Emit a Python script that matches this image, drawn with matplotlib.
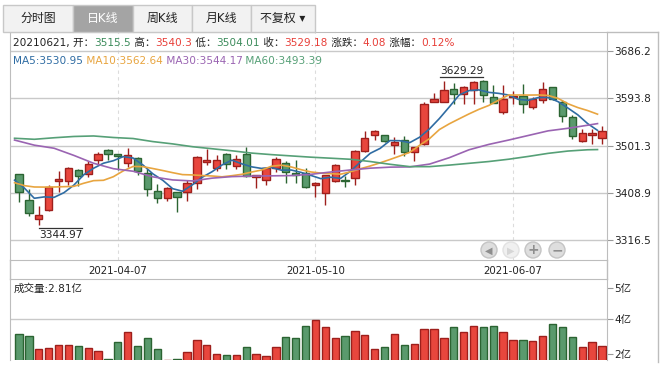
import numpy as np
import matplotlib.pyplot as plt
from matplotlib.patches import Rectangle, Circle

plt.rcParams['font.family'] = ['DejaVu Sans', 'Noto Sans CJK SC']

# ---- data ----
opens = [3445.0, 3394.8, 3357.0, 3374.6, 3431.4, 3432.6, 3452.9, 3445.0, 3472.5, 3492.0,
         3484.2, 3467.8, 3476.4, 3447.0, 3411.8, 3398.1, 3409.8, 3409.8, 3428.6, 3468.5,
         3456.8, 3484.2, 3461.9, 3484.2, 3440.4, 3433.3, 3457.9, 3467.8, 3447.0, 3447.0,
         3423.5, 3407.9, 3432.0, 3433.9, 3437.2, 3491.2, 3521.3, 3521.3, 3501.7, 3511.6,
         3488.7, 3503.7, 3587.1, 3587.1, 3611.3, 3602.1, 3610.5, 3627.0, 3595.7, 3566.3,
         3596.9, 3598.2, 3577.3, 3589.8, 3615.2, 3587.1, 3556.6, 3509.6, 3521.3, 3515.5]
highs = [3446.0, 3415.7, 3383.1, 3423.5, 3452.1, 3460.0, 3454.5, 3471.7, 3488.7, 3494.6,
         3485.5, 3495.9, 3478.0, 3455.4, 3425.5, 3419.5, 3411.0, 3433.9, 3480.9, 3494.0,
         3482.2, 3486.0, 3482.2, 3497.9, 3444.5, 3458.0, 3478.3, 3471.7, 3473.0, 3457.9,
         3429.0, 3444.0, 3465.8, 3441.7, 3492.6, 3530.3, 3531.0, 3522.5, 3517.4, 3519.4,
         3499.0, 3585.9, 3603.5, 3627.6, 3623.1, 3617.0, 3627.6, 3629.29, 3619.7, 3619.7,
         3608.6, 3621.1, 3596.9, 3625.0, 3616.5, 3590.0, 3561.6, 3534.3, 3534.3, 3540.3]
lows = [3390.2, 3363.5, 3344.97, 3374.0, 3410.4, 3424.1, 3422.8, 3439.2, 3463.3, 3473.0,
        3453.5, 3460.0, 3443.7, 3403.2, 3388.4, 3393.4, 3371.9, 3393.4, 3415.7, 3463.9,
        3451.3, 3456.0, 3455.4, 3439.2, 3417.7, 3424.1, 3450.0, 3427.5, 3427.5, 3417.7,
        3401.3, 3384.4, 3429.4, 3419.6, 3424.1, 3489.0, 3511.6, 3509.0, 3484.5, 3480.9,
        3471.1, 3502.0, 3586.0, 3586.0, 3582.6, 3582.0, 3582.0, 3585.9, 3584.0, 3562.4,
        3582.0, 3564.4, 3572.2, 3583.7, 3591.0, 3546.8, 3513.5, 3507.6, 3504.1, 3504.01]
closes = [3411.0, 3368.8, 3364.9, 3419.6, 3435.3, 3456.8, 3442.3, 3465.8, 3484.2, 3484.2,
          3481.5, 3482.2, 3452.1, 3415.7, 3398.1, 3418.3, 3400.1, 3427.5, 3478.3, 3472.5,
          3472.5, 3465.8, 3474.4, 3442.3, 3443.1, 3456.8, 3474.4, 3449.0, 3443.5, 3419.6,
          3427.5, 3443.1, 3462.7, 3432.0, 3490.1, 3516.6, 3529.2, 3510.8, 3508.4, 3488.7,
          3497.9, 3582.0, 3593.0, 3609.4, 3601.5, 3615.2, 3625.0, 3599.6, 3585.1, 3591.8,
          3598.8, 3582.0, 3591.8, 3611.3, 3592.4, 3558.5, 3519.4, 3525.3, 3525.3, 3529.18]
# volume in 亿
volumes = [3.32, 3.24, 2.65, 2.69, 2.83, 2.83, 2.78, 2.69, 2.56, 2.20,
           2.96, 3.41, 2.78, 3.14, 2.65, 2.18, 2.20, 2.52, 3.05, 2.83,
           2.43, 2.38, 2.38, 2.74, 2.43, 2.34, 2.74, 3.18, 3.14, 3.68,
           3.94, 3.63, 3.14, 3.24, 3.45, 3.27, 2.65, 2.75, 3.32, 2.84,
           2.87, 3.54, 3.54, 3.14, 3.63, 3.41, 3.68, 3.63, 3.68, 3.41,
           3.05, 3.05, 3.01, 3.23, 3.77, 3.63, 3.18, 2.74, 2.96, 2.81]
ma5 = [3433.6, 3417.9, 3398.1, 3400.8, 3399.9, 3409.1, 3423.8, 3444.0, 3456.9, 3466.7,
       3471.6, 3479.6, 3476.8, 3463.1, 3445.9, 3433.3, 3416.9, 3411.9, 3424.5, 3439.3,
       3450.2, 3463.3, 3472.7, 3465.5, 3459.6, 3456.5, 3458.2, 3453.1, 3453.4, 3448.7,
       3442.8, 3436.5, 3439.3, 3437.0, 3451.1, 3468.9, 3486.1, 3495.7, 3511.0, 3510.7,
       3507.0, 3517.6, 3534.0, 3554.2, 3576.8, 3600.2, 3608.8, 3610.1, 3605.3, 3603.3,
       3600.1, 3591.5, 3589.9, 3595.1, 3595.3, 3587.2, 3574.7, 3561.4, 3544.2, 3530.95]
ma10 = [3428.6, 3422.8, 3420.2, 3420.0, 3420.2, 3420.8, 3421.4, 3427.5, 3432.6, 3433.3,
        3440.3, 3451.7, 3460.4, 3460.0, 3456.3, 3452.4, 3448.2, 3444.4, 3443.8, 3442.6,
        3441.7, 3440.1, 3442.3, 3445.0, 3449.5, 3453.3, 3460.8, 3462.9, 3459.4, 3454.1,
        3449.6, 3447.4, 3446.2, 3445.2, 3449.9, 3455.9, 3461.3, 3467.5, 3474.0, 3480.9,
        3488.0, 3501.8, 3514.9, 3532.6, 3543.8, 3553.6, 3563.2, 3572.1, 3579.7, 3590.1,
        3600.1, 3600.1, 3600.0, 3600.2, 3599.3, 3593.6, 3583.1, 3575.6, 3569.7, 3562.64]
# MA30 / MA60 read every second session
ma_slow_pos = list(range(0, 60, 2)) + [59]
ma30 = [3512, 3502, 3496, 3482, 3466.6, 3456, 3451, 3440, 3434, 3432,
        3437.5, 3440.5, 3441.5, 3442, 3442.5, 3445, 3449.5, 3453.5, 3457, 3459,
        3459.5, 3465, 3477.5, 3493, 3503.5, 3512, 3521, 3530, 3535, 3541, 3544.17]
ma60 = [3515.5, 3513.5, 3516.5, 3519, 3520, 3517, 3515, 3509, 3504.5, 3499,
        3495, 3491, 3486.5, 3483.5, 3481, 3478.5, 3476.5, 3474.4, 3470, 3464.6,
        3460, 3460, 3463, 3466.5, 3470, 3474.5, 3480, 3486, 3490.5, 3493, 3493.39]

tick_idx = [10, 30, 50]
tick_dates = ['2021-04-07', '2021-05-10', '2021-06-07']
price_ticks = [3316.5, 3408.9, 3501.3, 3593.8, 3686.2]
vol_ticks = [2.44, 4.0, 5.39]
vol_labels = ['2亿', '4亿', '5亿']
tab_names = ['分时图', '日K线', '周K线', '月K线', '不复权 ▾']
day = '20210621'
chg_text, pct_text = '4.08', '0.12%'

# ---- style ----
RED, RED_E = '#e8463d', '#9e1f1c'
GRN, GRN_E = '#5a9a6d', '#2b6432'
TXT_RED, TXT_GRN = '#e8403a', '#3d8c5c'
C5, C10, C30, C60 = '#2f6ca3', '#e8a540', '#9a64b2', '#56a077'
GRID, SPINE = '#c9c9c9', '#bdbdbd'

W, H = 666, 370
fig = plt.figure(figsize=(W / 100, H / 100), dpi=100)


def px_axes(x0, y0, x1, y1, **kw):
    return fig.add_axes([x0 / W, 1 - y1 / H, (x1 - x0) / W, (y1 - y0) / H], **kw)


idx = np.arange(len(closes))
o, h, l, c = map(np.array, (opens, highs, lows, closes))
up = c >= o
fill = np.where(up, RED, GRN)
edge = np.where(up, RED_E, GRN_E)

# ---- price panel ----
ax = px_axes(10, 32, 607, 260)
ax.vlines(idx, l, h, colors=edge, lw=1, zorder=2)
body = np.maximum(np.abs(c - o), 0.6)
ax.bar(idx, body, bottom=np.minimum(o, c), width=0.74, color=fill,
       edgecolor=edge, linewidth=1, zorder=3)
ax.plot(idx - 0.45, ma5, color=C5, lw=1.2, zorder=4)
ax.plot(idx - 0.45, ma10, color=C10, lw=1.2, zorder=4)
ax.plot(np.array(ma_slow_pos) - 0.45, ma30, color=C30, lw=1.2, zorder=4)
ax.plot(np.array(ma_slow_pos) - 0.45, ma60, color=C60, lw=1.2, zorder=4)
for t in tick_idx:
    ax.axvline(t, color='#dcdcdc', lw=0.8, ls=(0, (3, 3)), zorder=0)

ax.set_xlim(-0.911, 59.51)
ax.set_ylim(3277.38, 3723.37)
ax.yaxis.tick_right()
ax.set_yticks(price_ticks, [f'{v:.1f}' for v in price_ticks])
ax.set_xticks(tick_idx, tick_dates)
ax.tick_params(axis='y', length=4, width=0.8, color='#999999', pad=1.5,
               labelsize=7.6, labelcolor='#222222')
ax.tick_params(axis='x', length=0, pad=4, labelsize=7.4, labelcolor='#222222')
ax.grid(axis='y', color=GRID, lw=1)
ax.set_axisbelow(True)
for s in ax.spines.values():
    s.set_color(SPINE)

# ---- volume panel ----
vax = px_axes(10, 279, 607, 360)
vax.bar(idx, volumes, width=0.74, color=fill, edgecolor=edge, linewidth=1, zorder=3)
vax.axhline(4.0, color=GRID, lw=1, zorder=0)
vax.set_xlim(ax.get_xlim())
vax.set_ylim(2.172, 5.788)
vax.yaxis.tick_right()
vax.set_yticks(vol_ticks, vol_labels)
vax.set_xticks([])
vax.tick_params(axis='y', length=4, width=0.8, color='#999999', pad=1.5,
                labelsize=7.6, labelcolor='#222222')
vax.spines['bottom'].set_visible(False)
for s in vax.spines.values():
    s.set_color(SPINE)

# ---- overlay in pixel units ----
ov = fig.add_axes([0, 0, 1, 1], zorder=10)
ov.set_xlim(0, W)
ov.set_ylim(H, 0)
ov.axis('off')
ov.patch.set_alpha(0)

# frame bits not covered by the axes spines
ov.plot([607, 658], [32, 32], color=SPINE, lw=1)
ov.plot([658, 658], [32, 362], color=SPINE, lw=1)
ov.plot([10, 10], [260, 279], color=SPINE, lw=1)
ov.plot([607, 607], [260, 279], color=SPINE, lw=1)

# tabs
tab_edges = [3, 73, 133, 192, 251, 315]
for i, name in enumerate(tab_names):
    x0, x1 = tab_edges[i], tab_edges[i + 1]
    sel = (i == 1)
    ov.add_patch(Rectangle((x0, 5), x1 - x0, 27, facecolor='#a4a4a4' if sel else '#f2f2f2',
                           edgecolor='#c8c8c8', lw=1))
    ov.text((x0 + x1) / 2, 18.5, name, ha='center', va='center', fontsize=8.6,
            color='white' if sel else '#222222')

renderer = fig.canvas.get_renderer()


def run_text(x, y, parts, size=7.6):
    for s, col in parts:
        t = ov.text(x, y, s, color=col, fontsize=size, ha='left', va='center')
        x += t.get_window_extent(renderer=renderer).width


run_text(13, 43, [(f'{day}, 开：', '#222222'), (f'{opens[-1]}', TXT_GRN),
                  (' 高：', '#222222'), (f'{highs[-1]}', TXT_RED),
                  (' 低：', '#222222'), (f'{lows[-1]}', TXT_GRN),
                  (' 收：', '#222222'), (f'{closes[-1]}', TXT_RED),
                  (' 涨跌：', '#222222'), (chg_text, TXT_RED),
                  (' 涨幅：', '#222222'), (pct_text, TXT_RED)])
run_text(13, 61, [(f'MA5:{ma5[-1]:.2f}', C5), (f' MA10:{ma10[-1]:.2f}', C10),
                  (f' MA30:{ma30[-1]:.2f}', C30), (f' MA60:{ma60[-1]:.2f}', C60)])
run_text(14, 289, [(f'成交量:{volumes[-1]:.2f}亿', '#222222')])


def to_px(axis, x, y):
    p = axis.transData.transform((x, y))
    return p[0], H - p[1]


lo_i, hi_i = int(np.argmin(lows)), int(np.argmax(highs))
px, py = to_px(ax, lo_i, lows[lo_i])
ov.plot([px, px + 43], [py + 3, py + 3], color='#333333', lw=0.9)
ov.text(px + 0.5, py + 10, f'{lows[lo_i]:.2f}', fontsize=7.6, color='#222222', va='center')
px, py = to_px(ax, hi_i, highs[hi_i])
ov.plot([px - 43, px], [py - 3, py - 3], color='#333333', lw=0.9)
ov.text(px, py - 9.5, f'{highs[hi_i]:.2f}', fontsize=7.6, color='#222222', va='center', ha='right')

# zoom buttons
for bx, sym, dim in [(489, '◀', False), (511, '▶', True), (533, '+', False), (557, '−', False)]:
    ov.add_patch(Circle((bx, 250), 8, facecolor='#f0f0f0' if dim else '#dedede',
                        edgecolor='#e2e2e2' if dim else '#c4c4c4', lw=1))
    ov.text(bx, 250.5, sym, ha='center', va='center', fontsize=7 if sym in '◀▶' else 10,
            color='#d6d6d6' if dim else '#8e8e8e', fontweight='bold')

fig.savefig('out.png', dpi=100)
